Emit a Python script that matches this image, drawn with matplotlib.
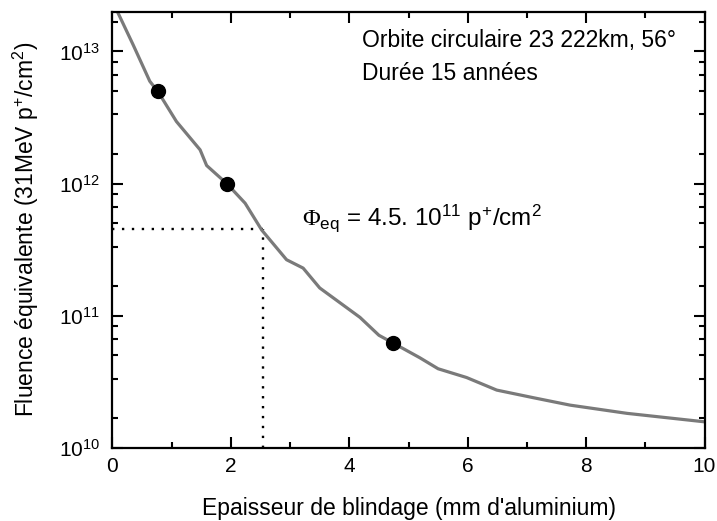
import numpy as np
import matplotlib
matplotlib.use('Agg')
import matplotlib.pyplot as plt
from matplotlib.ticker import FixedLocator, NullFormatter, LogFormatterMathtext

plt.rcParams['font.family'] = ['Liberation Sans', 'DejaVu Sans']
plt.rcParams['mathtext.fontset'] = 'custom'
plt.rcParams['mathtext.rm'] = 'Liberation Sans'
plt.rcParams['mathtext.it'] = 'Liberation Sans:italic'
plt.rcParams['mathtext.cal'] = 'Liberation Serif'

# shielding thickness (mm Al) and equivalent 31 MeV proton fluence
thickness = [0.0, 0.35, 0.63, 0.77, 1.08, 1.48, 1.59, 1.76, 1.93, 2.24, 2.52,
             2.94, 3.22, 3.50, 4.18, 4.50, 4.74, 5.19, 5.50, 5.98, 6.49,
             7.11, 7.73, 8.69, 10.0]
fluence = [2.4e13, 1.12e13, 5.95e12, 4.95e12, 2.95e12, 1.8e12, 1.37e12,
           1.17e12, 1.0e12, 7.1e11, 4.45e11, 2.65e11, 2.29e11, 1.62e11,
           9.7e10, 7.1e10, 6.2e10, 4.8e10, 3.96e10, 3.4e10, 2.73e10,
           2.39e10, 2.1e10, 1.82e10, 1.57e10]

# highlighted points on the curve
pts_x = [0.77, 1.93, 4.74]
pts_y = [5e12, 1e12, 6.2e10]

PHI_EQ = 4.5e11
T_EQ = 2.55

fig = plt.figure(figsize=(7.17, 5.21), dpi=100)
ax = fig.add_axes([0.1569, 0.1407, 0.8257, 0.8368])

ax.plot(thickness, fluence, color='#7a7a7a', lw=2.3, zorder=2)
ax.plot(pts_x, pts_y, 'o', color='black', ms=10, zorder=3)
ax.plot([0, T_EQ], [PHI_EQ, PHI_EQ], color='black', lw=1.7,
        linestyle=(0, (1, 3.2)), zorder=1)
ax.plot([T_EQ, T_EQ], [1e10, PHI_EQ], color='black', lw=1.7,
        linestyle=(0, (1, 3.2)), zorder=1)

ax.set_yscale('log')
ax.set_xlim(0, 10)
ax.set_ylim(1e10, 2e13)

ax.xaxis.set_major_locator(FixedLocator([0, 2, 4, 6, 8, 10]))
ax.xaxis.set_minor_locator(FixedLocator([1, 3, 5, 7, 9]))
ax.yaxis.set_major_locator(FixedLocator([1e10, 1e11, 1e12, 1e13]))
# minor ticks split each decade linearly into sixths
minor_y = [10.0 ** (n + 1) * k / 6 for n in range(10, 13) for k in range(1, 6)]
minor_y.append(1e14 / 6)
ax.yaxis.set_minor_locator(FixedLocator(minor_y))
ax.yaxis.set_major_formatter(LogFormatterMathtext())
ax.yaxis.set_minor_formatter(NullFormatter())

ax.tick_params(which='both', direction='in', top=True, right=True,
               width=1.5, labelsize=15)
ax.tick_params(which='major', length=8)
ax.tick_params(which='minor', length=4)
ax.tick_params(axis='x', pad=7)
ax.tick_params(axis='y', pad=9)
for side in ax.spines.values():
    side.set_linewidth(1.6)

ax.set_xlabel("Epaisseur de blindage (mm d'aluminium)", fontsize=16.5,
              labelpad=15)
ax.set_ylabel('Fluence équivalente (31MeV p$^{+}$/cm$^{2}$)', fontsize=16.5)
ax.yaxis.set_label_coords(-0.121, 0.5)

ax.text(0.4215, 0.9188, 'Orbite circulaire 23 222km, 56°',
        transform=ax.transAxes, fontsize=16.5, va='baseline')
ax.text(0.4215, 0.8433, 'Durée 15 années',
        transform=ax.transAxes, fontsize=16.5, va='baseline')
ax.text(3.196, 4.84e11,
        r'$\mathcal{\Phi}_{\mathrm{eq}}$ = 4.5. 10$^{11}$ p$^{+}$/cm$^{2}$',
        fontsize=17.5, va='baseline')

fig.savefig('out.png', dpi=100)
